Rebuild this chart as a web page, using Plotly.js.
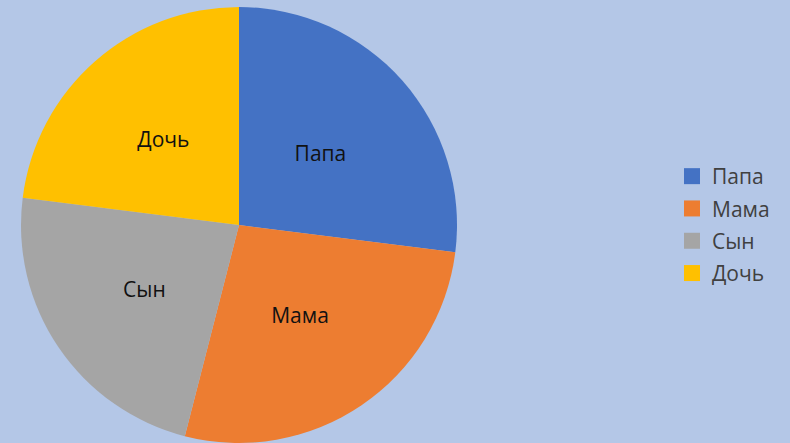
<!DOCTYPE html>
<html>
<head>
<meta charset="utf-8">
<script src="https://cdn.plot.ly/plotly-3.0.1.min.js"></script>
<style>
html,body{margin:0;padding:0;background:#B4C7E7;overflow:hidden;}
#chart{width:790px;height:443px;}
</style>
</head>
<body>
<div id="chart"></div>
<script>
const categories = ["Папа", "Мама", "Сын", "Дочь"];
const values = [27, 27, 23, 23];
const colors = ["#4472C4", "#ED7D31", "#A5A5A5", "#FFC000"];

const W = 790, H = 443, T = 7;
const cx = 239, cy = 225, R = 218, Rlab = 190;
const ph = H - T;
function dom(r) {
  return {
    x: [(cx - r) / W, (cx + r) / W],
    y: [(H - (cy + r)) / ph, (H - (cy - r)) / ph]
  };
}

const pie = {
  type: "pie",
  labels: categories,
  values: values,
  sort: false,
  direction: "clockwise",
  rotation: 0,
  marker: {colors: colors, line: {width: 0}},
  textinfo: "none",
  showlegend: false,
  domain: dom(R),
  hoverinfo: "label+value+percent"
};

const pieLabels = {
  type: "pie",
  labels: categories,
  values: values,
  sort: false,
  direction: "clockwise",
  rotation: 0,
  marker: {colors: ["rgba(0,0,0,0)","rgba(0,0,0,0)","rgba(0,0,0,0)","rgba(0,0,0,0)"], line: {width: 0}},
  textinfo: "label",
  textposition: "inside",
  insidetextorientation: "horizontal",
  insidetextfont: {family: "Open Sans, sans-serif", size: 21, color: "#111111"},
  showlegend: false,
  domain: dom(Rlab),
  hoverinfo: "skip"
};

const legendTraces = categories.map((c, i) => ({
  type: "scatter",
  x: [null], y: [null],
  mode: "markers",
  name: c,
  legendgroup: "g" + i,
  marker: {symbol: "square", size: 16, color: colors[i], line: {width: 0}},
  hoverinfo: "skip"
}));

const layout = {
  width: W,
  height: H,
  margin: {l: 0, r: 0, t: T, b: 0},
  paper_bgcolor: "#B4C7E7",
  plot_bgcolor: "rgba(0,0,0,0)",
  xaxis: {visible: false},
  yaxis: {visible: false},
  showlegend: true,
  legend: {
    x: 672 / W,
    y: 0.5,
    xanchor: "left",
    yanchor: "middle",
    font: {family: "Open Sans, sans-serif", size: 21, color: "#404040"},
    bgcolor: "rgba(0,0,0,0)",
    itemwidth: 30,
    tracegroupgap: 2,
    itemsizing: "trace"
  }
};

Plotly.newPlot("chart", [pie, pieLabels].concat(legendTraces), layout, {displayModeBar: false, staticPlot: true});
</script>
</body>
</html>
